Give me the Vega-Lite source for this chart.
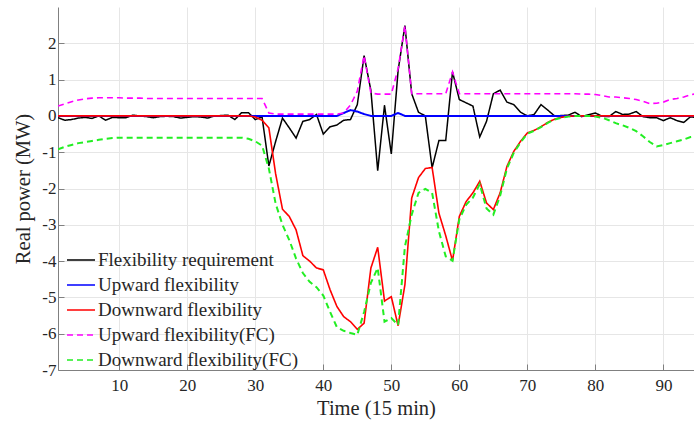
{
  "$schema": "https://vega.github.io/schema/vega-lite/v6.json",
  "width": 636,
  "height": 363,
  "autosize": {"type": "none"},
  "padding": {"left": 58, "top": 7, "right": 0, "bottom": 58},
  "background": "white",
  "config": {
    "view": {"stroke": null},
    "font": "Liberation Serif",
    "axis": {
      "labelFont": "Liberation Serif",
      "titleFont": "Liberation Serif",
      "labelFontSize": 17,
      "titleFontSize": 20.5,
      "titleFontWeight": "normal",
      "labelColor": "#262626",
      "titleColor": "#262626",
      "domainColor": "#808080",
      "tickColor": "#808080",
      "gridColor": "#e6e6e6",
      "gridWidth": 1,
      "tickSize": -6,
      "labelExpr": "'' + datum.value"
    },
    "legend": {
      "orient": "none",
      "legendX": 8,
      "legendY": 238,
      "symbolType": "stroke",
      "symbolSize": 784,
      "symbolStrokeWidth": 1.5,
      "labelFont": "Liberation Serif",
      "labelFontSize": 19,
      "labelColor": "#262626",
      "labelLimit": 0,
      "rowPadding": -5,
      "labelOffset": 2,
      "title": null
    }
  },
  "data": {
    "values": [
      {"t":1,"Flexibility requirement":-0.05,"Upward flexibility":0,"Downward flexibility":0,"Upward flexibility(FC)":0.27,"Downward flexibility(FC)":-0.92},
      {"t":2,"Flexibility requirement":-0.12,"Upward flexibility":0,"Downward flexibility":0,"Upward flexibility(FC)":0.33,"Downward flexibility(FC)":-0.85},
      {"t":3,"Flexibility requirement":-0.1,"Upward flexibility":0,"Downward flexibility":0,"Upward flexibility(FC)":0.39,"Downward flexibility(FC)":-0.8},
      {"t":4,"Flexibility requirement":-0.06,"Upward flexibility":0,"Downward flexibility":0,"Upward flexibility(FC)":0.44,"Downward flexibility(FC)":-0.75},
      {"t":5,"Flexibility requirement":-0.04,"Upward flexibility":0,"Downward flexibility":0,"Upward flexibility(FC)":0.47,"Downward flexibility(FC)":-0.72},
      {"t":6,"Flexibility requirement":-0.07,"Upward flexibility":0,"Downward flexibility":0,"Upward flexibility(FC)":0.49,"Downward flexibility(FC)":-0.69},
      {"t":7,"Flexibility requirement":0.0,"Upward flexibility":0,"Downward flexibility":0,"Upward flexibility(FC)":0.5,"Downward flexibility(FC)":-0.66},
      {"t":8,"Flexibility requirement":-0.12,"Upward flexibility":0,"Downward flexibility":0,"Upward flexibility(FC)":0.5,"Downward flexibility(FC)":-0.63},
      {"t":9,"Flexibility requirement":-0.04,"Upward flexibility":0,"Downward flexibility":0,"Upward flexibility(FC)":0.5,"Downward flexibility(FC)":-0.61},
      {"t":10,"Flexibility requirement":-0.05,"Upward flexibility":0,"Downward flexibility":0,"Upward flexibility(FC)":0.5,"Downward flexibility(FC)":-0.6},
      {"t":11,"Flexibility requirement":-0.05,"Upward flexibility":0,"Downward flexibility":0,"Upward flexibility(FC)":0.49,"Downward flexibility(FC)":-0.6},
      {"t":12,"Flexibility requirement":0.02,"Upward flexibility":0,"Downward flexibility":0,"Upward flexibility(FC)":0.49,"Downward flexibility(FC)":-0.6},
      {"t":13,"Flexibility requirement":0.0,"Upward flexibility":0,"Downward flexibility":0,"Upward flexibility(FC)":0.49,"Downward flexibility(FC)":-0.6},
      {"t":14,"Flexibility requirement":-0.02,"Upward flexibility":0,"Downward flexibility":0,"Upward flexibility(FC)":0.48,"Downward flexibility(FC)":-0.6},
      {"t":15,"Flexibility requirement":-0.05,"Upward flexibility":0,"Downward flexibility":0,"Upward flexibility(FC)":0.48,"Downward flexibility(FC)":-0.6},
      {"t":16,"Flexibility requirement":-0.02,"Upward flexibility":0,"Downward flexibility":0,"Upward flexibility(FC)":0.48,"Downward flexibility(FC)":-0.6},
      {"t":17,"Flexibility requirement":-0.01,"Upward flexibility":0,"Downward flexibility":0,"Upward flexibility(FC)":0.48,"Downward flexibility(FC)":-0.6},
      {"t":18,"Flexibility requirement":-0.02,"Upward flexibility":0,"Downward flexibility":0,"Upward flexibility(FC)":0.48,"Downward flexibility(FC)":-0.6},
      {"t":19,"Flexibility requirement":-0.06,"Upward flexibility":0,"Downward flexibility":0,"Upward flexibility(FC)":0.48,"Downward flexibility(FC)":-0.6},
      {"t":20,"Flexibility requirement":-0.04,"Upward flexibility":0,"Downward flexibility":0,"Upward flexibility(FC)":0.48,"Downward flexibility(FC)":-0.6},
      {"t":21,"Flexibility requirement":-0.02,"Upward flexibility":0,"Downward flexibility":0,"Upward flexibility(FC)":0.48,"Downward flexibility(FC)":-0.6},
      {"t":22,"Flexibility requirement":-0.03,"Upward flexibility":0,"Downward flexibility":0,"Upward flexibility(FC)":0.48,"Downward flexibility(FC)":-0.6},
      {"t":23,"Flexibility requirement":-0.06,"Upward flexibility":0,"Downward flexibility":0,"Upward flexibility(FC)":0.48,"Downward flexibility(FC)":-0.6},
      {"t":24,"Flexibility requirement":0.0,"Upward flexibility":0,"Downward flexibility":0,"Upward flexibility(FC)":0.48,"Downward flexibility(FC)":-0.6},
      {"t":25,"Flexibility requirement":0.01,"Upward flexibility":0,"Downward flexibility":0,"Upward flexibility(FC)":0.48,"Downward flexibility(FC)":-0.6},
      {"t":26,"Flexibility requirement":0.02,"Upward flexibility":0,"Downward flexibility":0,"Upward flexibility(FC)":0.48,"Downward flexibility(FC)":-0.6},
      {"t":27,"Flexibility requirement":-0.1,"Upward flexibility":0,"Downward flexibility":0,"Upward flexibility(FC)":0.48,"Downward flexibility(FC)":-0.6},
      {"t":28,"Flexibility requirement":0.09,"Upward flexibility":0,"Downward flexibility":0,"Upward flexibility(FC)":0.48,"Downward flexibility(FC)":-0.6},
      {"t":29,"Flexibility requirement":0.09,"Upward flexibility":0,"Downward flexibility":0,"Upward flexibility(FC)":0.48,"Downward flexibility(FC)":-0.63},
      {"t":30,"Flexibility requirement":-0.1,"Upward flexibility":0,"Downward flexibility":-0.03,"Upward flexibility(FC)":0.48,"Downward flexibility(FC)":-0.7},
      {"t":31,"Flexibility requirement":-0.03,"Upward flexibility":0,"Downward flexibility":-0.12,"Upward flexibility(FC)":0.48,"Downward flexibility(FC)":-0.82},
      {"t":32,"Flexibility requirement":-1.38,"Upward flexibility":0,"Downward flexibility":-0.33,"Upward flexibility(FC)":0.08,"Downward flexibility(FC)":-1.45},
      {"t":33,"Flexibility requirement":-0.7,"Upward flexibility":0,"Downward flexibility":-1.6,"Upward flexibility(FC)":0.05,"Downward flexibility(FC)":-2.42},
      {"t":34,"Flexibility requirement":-0.06,"Upward flexibility":0,"Downward flexibility":-2.57,"Upward flexibility(FC)":0.05,"Downward flexibility(FC)":-3.0},
      {"t":35,"Flexibility requirement":-0.33,"Upward flexibility":0,"Downward flexibility":-2.77,"Upward flexibility(FC)":0.05,"Downward flexibility(FC)":-3.42},
      {"t":36,"Flexibility requirement":-0.61,"Upward flexibility":0,"Downward flexibility":-3.14,"Upward flexibility(FC)":0.05,"Downward flexibility(FC)":-3.93},
      {"t":37,"Flexibility requirement":-0.15,"Upward flexibility":0,"Downward flexibility":-3.85,"Upward flexibility(FC)":0.05,"Downward flexibility(FC)":-4.33},
      {"t":38,"Flexibility requirement":-0.1,"Upward flexibility":0,"Downward flexibility":-4.0,"Upward flexibility(FC)":0.05,"Downward flexibility(FC)":-4.57},
      {"t":39,"Flexibility requirement":0.04,"Upward flexibility":0,"Downward flexibility":-4.19,"Upward flexibility(FC)":0.05,"Downward flexibility(FC)":-4.72},
      {"t":40,"Flexibility requirement":-0.5,"Upward flexibility":0,"Downward flexibility":-4.24,"Upward flexibility(FC)":0.05,"Downward flexibility(FC)":-4.95},
      {"t":41,"Flexibility requirement":-0.3,"Upward flexibility":0,"Downward flexibility":-4.79,"Upward flexibility(FC)":0.05,"Downward flexibility(FC)":-5.4},
      {"t":42,"Flexibility requirement":-0.25,"Upward flexibility":0,"Downward flexibility":-5.25,"Upward flexibility(FC)":0.05,"Downward flexibility(FC)":-5.82},
      {"t":43,"Flexibility requirement":-0.12,"Upward flexibility":0.08,"Downward flexibility":-5.53,"Upward flexibility(FC)":0.08,"Downward flexibility(FC)":-5.92},
      {"t":44,"Flexibility requirement":-0.1,"Upward flexibility":0.16,"Downward flexibility":-5.67,"Upward flexibility(FC)":0.3,"Downward flexibility(FC)":-5.98},
      {"t":45,"Flexibility requirement":0.31,"Upward flexibility":0.12,"Downward flexibility":-5.88,"Upward flexibility(FC)":0.68,"Downward flexibility(FC)":-6.03},
      {"t":46,"Flexibility requirement":1.66,"Upward flexibility":0.05,"Downward flexibility":-5.71,"Upward flexibility(FC)":1.66,"Downward flexibility(FC)":-5.4},
      {"t":47,"Flexibility requirement":0.7,"Upward flexibility":0,"Downward flexibility":-4.19,"Upward flexibility(FC)":0.63,"Downward flexibility(FC)":-4.6},
      {"t":48,"Flexibility requirement":-1.51,"Upward flexibility":0,"Downward flexibility":-3.62,"Upward flexibility(FC)":0.6,"Downward flexibility(FC)":-4.19},
      {"t":49,"Flexibility requirement":0.29,"Upward flexibility":0,"Downward flexibility":-5.1,"Upward flexibility(FC)":0.6,"Downward flexibility(FC)":-5.67},
      {"t":50,"Flexibility requirement":-1.05,"Upward flexibility":0,"Downward flexibility":-4.98,"Upward flexibility(FC)":0.6,"Downward flexibility(FC)":-5.57},
      {"t":51,"Flexibility requirement":1.25,"Upward flexibility":0.08,"Downward flexibility":-5.78,"Upward flexibility(FC)":1.3,"Downward flexibility(FC)":-5.76},
      {"t":52,"Flexibility requirement":2.49,"Upward flexibility":0,"Downward flexibility":-4.65,"Upward flexibility(FC)":2.49,"Downward flexibility(FC)":-3.6},
      {"t":53,"Flexibility requirement":0.61,"Upward flexibility":0,"Downward flexibility":-2.26,"Upward flexibility(FC)":0.61,"Downward flexibility(FC)":-2.72},
      {"t":54,"Flexibility requirement":0.1,"Upward flexibility":0,"Downward flexibility":-1.7,"Upward flexibility(FC)":0.61,"Downward flexibility(FC)":-2.12},
      {"t":55,"Flexibility requirement":0.0,"Upward flexibility":0,"Downward flexibility":-1.45,"Upward flexibility(FC)":0.61,"Downward flexibility(FC)":-2.01},
      {"t":56,"Flexibility requirement":-1.43,"Upward flexibility":0,"Downward flexibility":-1.42,"Upward flexibility(FC)":0.61,"Downward flexibility(FC)":-2.12},
      {"t":57,"Flexibility requirement":-0.68,"Upward flexibility":0,"Downward flexibility":-2.68,"Upward flexibility(FC)":0.61,"Downward flexibility(FC)":-3.18},
      {"t":58,"Flexibility requirement":-0.68,"Upward flexibility":0,"Downward flexibility":-3.3,"Upward flexibility(FC)":0.61,"Downward flexibility(FC)":-3.87},
      {"t":59,"Flexibility requirement":1.21,"Upward flexibility":0,"Downward flexibility":-3.99,"Upward flexibility(FC)":1.21,"Downward flexibility(FC)":-3.99},
      {"t":60,"Flexibility requirement":0.45,"Upward flexibility":0,"Downward flexibility":-2.77,"Upward flexibility(FC)":0.61,"Downward flexibility(FC)":-2.85},
      {"t":61,"Flexibility requirement":0.36,"Upward flexibility":0,"Downward flexibility":-2.36,"Upward flexibility(FC)":0.61,"Downward flexibility(FC)":-2.45},
      {"t":62,"Flexibility requirement":0.27,"Upward flexibility":0,"Downward flexibility":-2.12,"Upward flexibility(FC)":0.61,"Downward flexibility(FC)":-2.25},
      {"t":63,"Flexibility requirement":-0.58,"Upward flexibility":0,"Downward flexibility":-1.8,"Upward flexibility(FC)":0.61,"Downward flexibility(FC)":-1.88},
      {"t":64,"Flexibility requirement":-0.15,"Upward flexibility":0,"Downward flexibility":-2.4,"Upward flexibility(FC)":0.61,"Downward flexibility(FC)":-2.55},
      {"t":65,"Flexibility requirement":0.61,"Upward flexibility":0,"Downward flexibility":-2.58,"Upward flexibility(FC)":0.61,"Downward flexibility(FC)":-2.72},
      {"t":66,"Flexibility requirement":0.71,"Upward flexibility":0,"Downward flexibility":-2.12,"Upward flexibility(FC)":0.61,"Downward flexibility(FC)":-2.2},
      {"t":67,"Flexibility requirement":0.38,"Upward flexibility":0,"Downward flexibility":-1.39,"Upward flexibility(FC)":0.61,"Downward flexibility(FC)":-1.45},
      {"t":68,"Flexibility requirement":0.31,"Upward flexibility":0,"Downward flexibility":-0.98,"Upward flexibility(FC)":0.61,"Downward flexibility(FC)":-1.02},
      {"t":69,"Flexibility requirement":0.1,"Upward flexibility":0,"Downward flexibility":-0.7,"Upward flexibility(FC)":0.61,"Downward flexibility(FC)":-0.73},
      {"t":70,"Flexibility requirement":0.0,"Upward flexibility":0,"Downward flexibility":-0.47,"Upward flexibility(FC)":0.61,"Downward flexibility(FC)":-0.49},
      {"t":71,"Flexibility requirement":0.04,"Upward flexibility":0,"Downward flexibility":-0.4,"Upward flexibility(FC)":0.61,"Downward flexibility(FC)":-0.41},
      {"t":72,"Flexibility requirement":0.31,"Upward flexibility":0,"Downward flexibility":-0.3,"Upward flexibility(FC)":0.61,"Downward flexibility(FC)":-0.31},
      {"t":73,"Flexibility requirement":0.16,"Upward flexibility":0,"Downward flexibility":-0.18,"Upward flexibility(FC)":0.61,"Downward flexibility(FC)":-0.19},
      {"t":74,"Flexibility requirement":0.0,"Upward flexibility":0,"Downward flexibility":-0.09,"Upward flexibility(FC)":0.61,"Downward flexibility(FC)":-0.1},
      {"t":75,"Flexibility requirement":0.01,"Upward flexibility":0,"Downward flexibility":-0.04,"Upward flexibility(FC)":0.61,"Downward flexibility(FC)":-0.05},
      {"t":76,"Flexibility requirement":0.02,"Upward flexibility":0,"Downward flexibility":-0.01,"Upward flexibility(FC)":0.61,"Downward flexibility(FC)":-0.02},
      {"t":77,"Flexibility requirement":0.1,"Upward flexibility":0,"Downward flexibility":0,"Upward flexibility(FC)":0.61,"Downward flexibility(FC)":0},
      {"t":78,"Flexibility requirement":-0.02,"Upward flexibility":0,"Downward flexibility":0,"Upward flexibility(FC)":0.6,"Downward flexibility(FC)":0},
      {"t":79,"Flexibility requirement":0.03,"Upward flexibility":0,"Downward flexibility":0,"Upward flexibility(FC)":0.6,"Downward flexibility(FC)":0},
      {"t":80,"Flexibility requirement":0.08,"Upward flexibility":0,"Downward flexibility":0,"Upward flexibility(FC)":0.59,"Downward flexibility(FC)":-0.02},
      {"t":81,"Flexibility requirement":-0.01,"Upward flexibility":0,"Downward flexibility":0,"Upward flexibility(FC)":0.56,"Downward flexibility(FC)":-0.05},
      {"t":82,"Flexibility requirement":-0.02,"Upward flexibility":0,"Downward flexibility":0,"Upward flexibility(FC)":0.52,"Downward flexibility(FC)":-0.12},
      {"t":83,"Flexibility requirement":0.12,"Upward flexibility":0,"Downward flexibility":0,"Upward flexibility(FC)":0.52,"Downward flexibility(FC)":-0.2},
      {"t":84,"Flexibility requirement":0.04,"Upward flexibility":0,"Downward flexibility":0,"Upward flexibility(FC)":0.5,"Downward flexibility(FC)":-0.26},
      {"t":85,"Flexibility requirement":0.05,"Upward flexibility":0,"Downward flexibility":0,"Upward flexibility(FC)":0.48,"Downward flexibility(FC)":-0.33},
      {"t":86,"Flexibility requirement":0.12,"Upward flexibility":0,"Downward flexibility":0,"Upward flexibility(FC)":0.45,"Downward flexibility(FC)":-0.42},
      {"t":87,"Flexibility requirement":-0.02,"Upward flexibility":0,"Downward flexibility":0,"Upward flexibility(FC)":0.4,"Downward flexibility(FC)":-0.56},
      {"t":88,"Flexibility requirement":-0.05,"Upward flexibility":0,"Downward flexibility":0,"Upward flexibility(FC)":0.34,"Downward flexibility(FC)":-0.72},
      {"t":89,"Flexibility requirement":-0.05,"Upward flexibility":0,"Downward flexibility":0,"Upward flexibility(FC)":0.35,"Downward flexibility(FC)":-0.84},
      {"t":90,"Flexibility requirement":-0.13,"Upward flexibility":0,"Downward flexibility":0,"Upward flexibility(FC)":0.38,"Downward flexibility(FC)":-0.8},
      {"t":91,"Flexibility requirement":-0.05,"Upward flexibility":0,"Downward flexibility":0,"Upward flexibility(FC)":0.45,"Downward flexibility(FC)":-0.75},
      {"t":92,"Flexibility requirement":-0.13,"Upward flexibility":0,"Downward flexibility":0,"Upward flexibility(FC)":0.48,"Downward flexibility(FC)":-0.7},
      {"t":93,"Flexibility requirement":-0.18,"Upward flexibility":0,"Downward flexibility":0,"Upward flexibility(FC)":0.52,"Downward flexibility(FC)":-0.65},
      {"t":94,"Flexibility requirement":-0.02,"Upward flexibility":0,"Downward flexibility":0,"Upward flexibility(FC)":0.58,"Downward flexibility(FC)":-0.58},
      {"t":95,"Flexibility requirement":-0.06,"Upward flexibility":0,"Downward flexibility":0,"Upward flexibility(FC)":0.62,"Downward flexibility(FC)":-0.55}
    ]
  },
  "transform": [
    {"fold": ["Flexibility requirement", "Upward flexibility", "Downward flexibility", "Upward flexibility(FC)", "Downward flexibility(FC)"], "as": ["series", "v"]}
  ],
  "encoding": {
    "x": {
      "field": "t", "type": "quantitative",
      "scale": {"domain": [1, 94.5], "nice": false, "zero": false},
      "axis": {"values": [10, 20, 30, 40, 50, 60, 70, 80, 90], "title": "Time (15 min)", "labelPadding": 13, "titlePadding": 5}
    },
    "y": {
      "field": "v", "type": "quantitative",
      "scale": {"domain": [-7, 3], "nice": false, "zero": false},
      "axis": {"values": [-7, -6, -5, -4, -3, -2, -1, 0, 1, 2], "title": "Real power (MW)", "labelPadding": 8, "titlePadding": 8}
    },
    "color": {
      "field": "series", "type": "nominal",
      "scale": {
        "domain": ["Flexibility requirement", "Upward flexibility", "Downward flexibility", "Upward flexibility(FC)", "Downward flexibility(FC)"],
        "range": ["#000000", "#0000ff", "#ff0000", "#ff00ff", "#22ee22"]
      }
    },
    "strokeDash": {
      "field": "series", "type": "nominal",
      "scale": {
        "domain": ["Flexibility requirement", "Upward flexibility", "Downward flexibility", "Upward flexibility(FC)", "Downward flexibility(FC)"],
        "range": [[1, 0], [1, 0], [1, 0], [6, 4], [6, 4]]
      }
    }
  },
  "layer": [
    {"transform": [{"filter": "datum.series === 'Flexibility requirement'"}], "mark": {"type": "line", "strokeWidth": 1.5, "clip": true}},
    {"transform": [{"filter": "datum.series === 'Upward flexibility'"}], "mark": {"type": "line", "strokeWidth": 2, "clip": true}},
    {"transform": [{"filter": "datum.series === 'Downward flexibility'"}], "mark": {"type": "line", "strokeWidth": 1.6, "clip": true}},
    {"transform": [{"filter": "datum.series === 'Upward flexibility(FC)'"}], "mark": {"type": "line", "strokeWidth": 1.6, "clip": true}},
    {"transform": [{"filter": "datum.series === 'Downward flexibility(FC)'"}], "mark": {"type": "line", "strokeWidth": 2, "clip": true}}
  ]
}
